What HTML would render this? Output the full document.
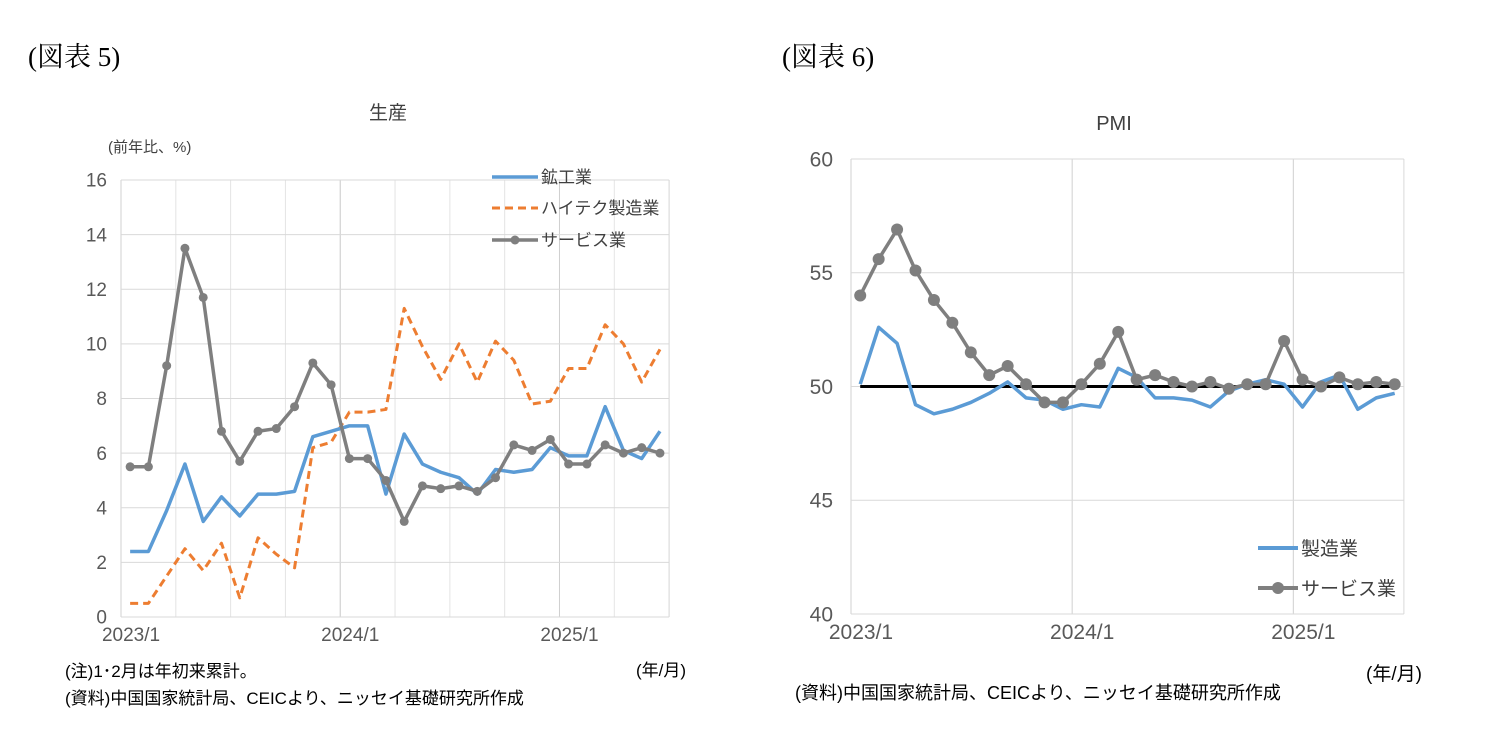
<!DOCTYPE html>
<html><head><meta charset="utf-8"><style>
body{margin:0;background:#fff;width:1488px;height:746px;overflow:hidden;font-family:"Liberation Sans","Noto Sans CJK JP",sans-serif;}
svg text{font-family:"Liberation Sans","Noto Sans CJK JP",sans-serif;}
svg text.serif{font-family:"Liberation Serif","Noto Serif CJK SC",serif;}
</style></head><body>
<svg width="1488" height="746">
<text class="serif" x="28" y="66" font-size="27" fill="#000">(図表 5)</text>
<text class="serif" x="782" y="66" font-size="27" fill="#000">(図表 6)</text>
<g id="left"></g>
<g id="right"></g>
<text x="388" y="119" font-size="19" fill="#404040" text-anchor="middle">生産</text>
<text x="108" y="152" font-size="15" fill="#404040">(前年比、%)</text>
<text x="1114" y="130" font-size="20" fill="#404040" text-anchor="middle">PMI</text>
<text x="636" y="676" font-size="17" fill="#000">(年/月)</text>
<text x="65" y="677" font-size="17" fill="#000">(注)1･2月は年初来累計。</text>
<text x="65" y="704" font-size="17" fill="#000">(資料)中国国家統計局、CEICより、ニッセイ基礎研究所作成</text>
<text x="1366" y="680" font-size="19" fill="#000">(年/月)</text>
<text x="795" y="699" font-size="18" fill="#000">(資料)中国国家統計局、CEICより、ニッセイ基礎研究所作成</text>
</svg>
<script>
const mining=[2.4,2.4,3.9,5.6,3.5,4.4,3.7,4.5,4.5,4.6,6.6,6.8,7.0,7.0,4.5,6.7,5.6,5.3,5.1,4.5,5.4,5.3,5.4,6.2,5.9,5.9,7.7,6.1,5.8,6.8];
const hitech=[0.5,0.5,1.5,2.5,1.7,2.7,0.7,2.9,2.3,1.8,6.2,6.4,7.5,7.5,7.6,11.3,9.9,8.7,10.0,8.6,10.1,9.4,7.8,7.9,9.1,9.1,10.7,10.0,8.6,9.8];
const services=[5.5,5.5,9.2,13.5,11.7,6.8,5.7,6.8,6.9,7.7,9.3,8.5,5.8,5.8,5.0,3.5,4.8,4.7,4.8,4.6,5.1,6.3,6.1,6.5,5.6,5.6,6.3,6.0,6.2,6.0];
const pmiMfg=[50.1,52.6,51.9,49.2,48.8,49.0,49.3,49.7,50.2,49.5,49.4,49.0,49.2,49.1,50.8,50.4,49.5,49.5,49.4,49.1,49.8,50.1,50.3,50.1,49.1,50.2,50.5,49.0,49.5,49.7];
const pmiSvc=[54.0,55.6,56.9,55.1,53.8,52.8,51.5,50.5,50.9,50.1,49.3,49.3,50.1,51.0,52.4,50.3,50.5,50.2,50.0,50.2,49.9,50.1,50.1,52.0,50.3,50.0,50.4,50.1,50.2,50.1];
const leftTicks=[0,2,4,6,8,10,12,14,16];
const rightTicks=[40,45,50,55,60];
const xLabels=["2023/1","2024/1","2025/1"];
const NS="http://www.w3.org/2000/svg";
function mk(p,t,a){const e=document.createElementNS(NS,t);for(const k in a)e.setAttribute(k,a[k]);p.appendChild(e);return e;}
function chart(g,o){
 const x=i=>o.x0+(i+0.5)*o.bw, xb=i=>o.x0+i*o.bw;
 const y=v=>o.y0-(v-o.ymin)/(o.ymax-o.ymin)*(o.y0-o.y1);
 const n=30;
 if(o.minor)for(let i=0;i<=n;i+=3){const l=mk(g,'line',{x1:xb(i),x2:xb(i),y1:o.y1,y2:o.y0,stroke:'#e4e4e4'});}
 for(let i=0;i<xLabels.length;i++){const l=mk(g,'line',{x1:xb(i*12),x2:xb(i*12),y1:o.y1,y2:o.y0,stroke:'#d0d0d0'});
  const t=mk(g,'text',{x:xb(i*12)+o.lx,y:o.y0+o.ly,'font-size':o.xfs,fill:'#595959','text-anchor':'middle'});t.textContent=xLabels[i];}
 const rl=mk(g,'line',{x1:xb(n),x2:xb(n),y1:o.y1,y2:o.y0,stroke:'#d9d9d9'});
 o.ticks.forEach(v=>{const l=mk(g,'line',{x1:o.x0,x2:xb(n),y1:y(v),y2:y(v),stroke:'#d9d9d9'});
  const t=mk(g,'text',{x:o.x0-o.tx,y:y(v)+o.fs*0.35,'font-size':o.fs,fill:'#595959','text-anchor':'end'});t.textContent=v;});
 o.series.forEach(s=>{
  if(s.hline!==undefined){const l=mk(g,'line',{x1:x(0),x2:x(n-1),y1:y(s.hline),y2:y(s.hline),stroke:'#000','stroke-width':3});return;}
  const p=mk(g,'polyline',{points:s.d.map((v,i)=>x(i)+','+y(v)).join(' '),fill:'none',stroke:s.c,'stroke-width':s.w,'stroke-dasharray':s.dash||'','stroke-linejoin':'round'});
  
  if(s.r)s.d.forEach((v,i)=>{const c=mk(g,'circle',{cx:x(i),cy:y(v),r:s.r,fill:s.c});});
 });
 o.legend.forEach(L=>{const l=mk(g,'line',{x1:L.x,x2:L.x+L.len,y1:L.y,y2:L.y,stroke:L.c,'stroke-width':L.w,'stroke-dasharray':L.dash||''});
  if(L.r){const c=mk(g,'circle',{cx:L.x+L.len/2,cy:L.y,r:L.r,fill:L.c});}
  const t=mk(g,'text',{x:L.x+L.len+3,y:L.y+o.lfs*0.36,'font-size':o.lfs,fill:'#404040'});t.textContent=L.t;});
}
chart(document.getElementById('left'),{x0:121,bw:18.27,y0:617,y1:180,ymin:0,ymax:16,ticks:leftTicks,minor:true,fs:19,xfs:19,tx:14,lx:10,ly:24,lfs:17,
 series:[{name:'hitech',d:hitech,c:'#ed7d31',w:3,dash:'8,5'},{name:'mining',d:mining,c:'#5b9bd5',w:3.5},{name:'services',d:services,c:'#7f7f7f',w:3.5,r:4.5}],
 legend:[{x:492,y:177,len:46,c:'#5b9bd5',w:3.5,t:'鉱工業'},{x:492,y:208,len:46,c:'#ed7d31',w:3,dash:'8,5',t:'ハイテク製造業'},{x:492,y:240,len:46,c:'#7f7f7f',w:3.5,r:4.5,t:'サービス業'}]});
chart(document.getElementById('right'),{x0:851,bw:18.43,y0:614,y1:159,ymin:40,ymax:60,ticks:rightTicks,minor:false,fs:21,xfs:21,tx:18,lx:10,ly:25,lfs:19,
 series:[{hline:50},{name:'manufacturing',d:pmiMfg,c:'#5b9bd5',w:3.5},{name:'pmi-services',d:pmiSvc,c:'#7f7f7f',w:3.5,r:6}],
 legend:[{x:1258,y:548,len:40,c:'#5b9bd5',w:4,t:'製造業'},{x:1258,y:588,len:40,c:'#7f7f7f',w:4,r:6,t:'サービス業'}]});
</script>
</body></html>
